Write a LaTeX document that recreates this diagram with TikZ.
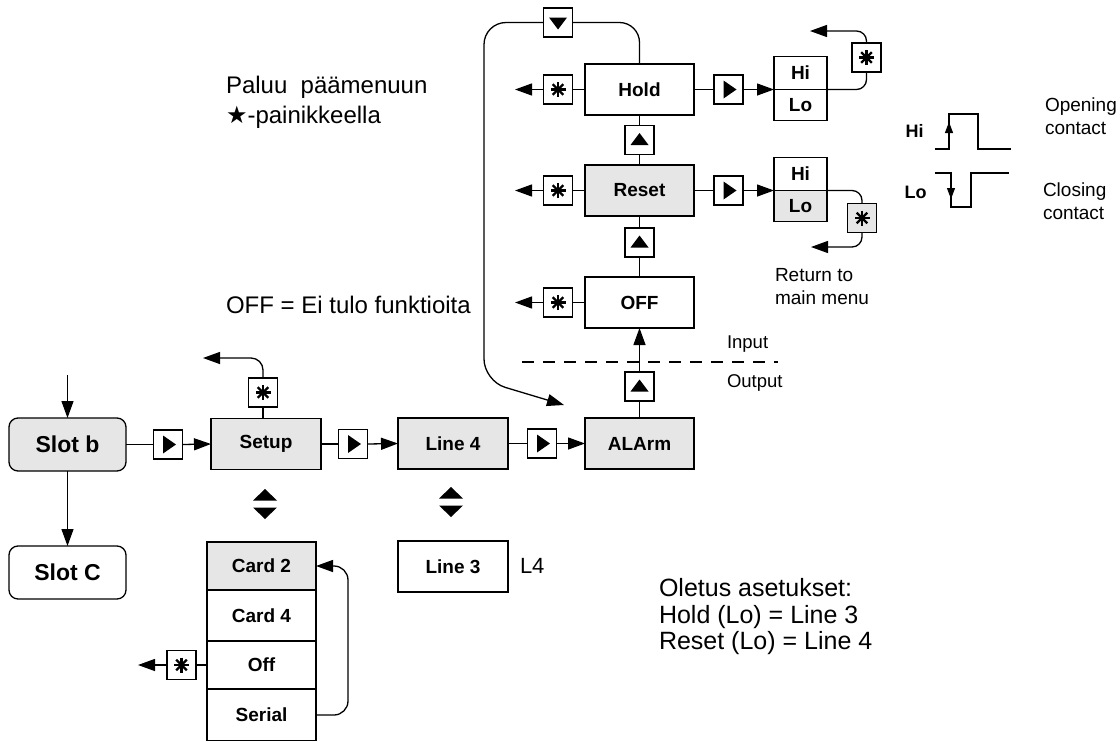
\documentclass[tikz,border=0pt]{standalone}
\usepackage{fontspec}
\setmainfont{Liberation Sans}
\newfontfamily\symfont{DejaVu Sans}
\usetikzlibrary{arrows.meta,calc}
\definecolor{boxgray}{HTML}{E6E6E6}
\begin{document}
\begin{tikzpicture}[x=1pt,y=-1pt,
  every node/.style={inner sep=0pt, outer sep=0pt},
  conn/.style={line width=1.3pt, draw=black},
  arr/.style={conn, -{Triangle[length=17pt,width=12pt]}},
  smallarr/.style={line width=1.2pt, -{Triangle[length=11pt,width=8pt]}},
  box/.style={draw, line width=1.3pt, minimum width=109pt, minimum height=51pt,
    font=\fontsize{19}{22}\selectfont\bfseries},
  gbox/.style={box, fill=boxgray},
  slot/.style={box, rounded corners=9pt, minimum width=117pt, minimum height=53pt,
    font=\fontsize{23}{26}\selectfont\bfseries},
  hilo/.style={draw, line width=1.3pt, minimum width=53pt,
    font=\fontsize{19}{22}\selectfont\bfseries},
  btn/.style={draw, fill=white, line width=1.3pt, minimum width=29pt, minimum height=29pt},
  btnright/.style={btn, path picture={\fill[black] ([shift={(-5pt,9pt)}]path picture bounding box.center)
     -- ([shift={(-5pt,-9pt)}]path picture bounding box.center)
     -- ([shift={(8pt,0pt)}]path picture bounding box.center) -- cycle;}},
  btnup/.style={btn, path picture={\fill[black] ([shift={(-9pt,-5pt)}]path picture bounding box.center)
     -- ([shift={(9pt,-5pt)}]path picture bounding box.center)
     -- ([shift={(0pt,7pt)}]path picture bounding box.center) -- cycle;}},
  btndown/.style={btn, path picture={\fill[black] ([shift={(-9pt,5pt)}]path picture bounding box.center)
     -- ([shift={(9pt,5pt)}]path picture bounding box.center)
     -- ([shift={(0pt,-7pt)}]path picture bounding box.center) -- cycle;}},
  btnstar/.style={btn, path picture={\foreach \a in {0,45,90,135}{\draw[black, line width=2.2pt]
     ([shift={(\a:7.5pt)}]path picture bounding box.center) --
     ([shift={(\a+180:7.5pt)}]path picture bounding box.center);}}},
  updown/.style={minimum width=24pt, minimum height=30pt, path picture={
     \fill[black] ([shift={(-12pt,3.5pt)}]path picture bounding box.center)
       -- ([shift={(12pt,3.5pt)}]path picture bounding box.center)
       -- ([shift={(0pt,15pt)}]path picture bounding box.center) -- cycle;
     \fill[black] ([shift={(-12pt,-3.5pt)}]path picture bounding box.center)
       -- ([shift={(12pt,-3.5pt)}]path picture bounding box.center)
       -- ([shift={(0pt,-15pt)}]path picture bounding box.center) -- cycle;}},
  txt/.style={font=\fontsize{24}{30}\selectfont, align=left, anchor=west},
  small/.style={font=\fontsize{19}{23}\selectfont, align=left, anchor=west},
]
\useasboundingbox (0,0) rectangle (1120,742);
\fill[white] (0,0) rectangle (1120,742);
\clip (0,0) rectangle (1120,740.4);

% ---- main row
\node[slot, fill=boxgray] (slotb) at (67.5,444.5) {Slot b};
\node[slot] (slotc) at (67.5,572.5) {Slot C};
\coordinate (slotin) at (67.5,375);
\node[btnright] (b1) at (168,444.5) {};
\node[gbox, minimum width=110pt] (setup) at (266,444) {Setup};
\node[btnright] (b2) at (353,444) {};
\node[gbox, minimum width=110pt] (line4) at (453,443.5) {Line 4};
\node[btnright] (b3) at (542,443.5) {};
\node[gbox] (alarm) at (639.5,443.5) {ALArm};

\draw[arr] (slotin) -- (slotb.north);
\draw[arr] (slotb.south) -- (slotc.north);
\draw[conn] (slotb.east) -- (b1.west);
\draw[arr] (b1.east) -- (setup.west);
\draw[conn] (setup.east) -- (b2.west);
\draw[arr] (b2.east) -- (line4.west);
\draw[conn] (line4.east) -- (b3.west);
\draw[arr] (b3.east) -- (alarm.west);

% ---- setup star
\node[btnstar] (sS) at (263,392.5) {};
\coordinate (retS) at (203,358);
\draw[conn] (sS.south) -- (sS.south |- setup.north);
\draw[arr, rounded corners=12pt] (sS.north) |- (retS);

% ---- up/down markers
\node[updown] (ud1) at (265,504) {};
\node[updown] (ud2) at (451,502) {};

% ---- card stack
\node[gbox, minimum height=48pt] (card2) at (261.5,566) {Card 2};
\node[box, minimum height=51pt] (card4) at (261.5,615.5) {Card 4};
\node[box, minimum height=48pt] (coff) at (261.5,665) {Off};
\node[box, minimum height=52pt] (serial) at (261.5,715) {Serial};
\node[btnstar] (sC) at (181.5,665) {};
\coordinate (retC) at (138,665);
\draw[conn] (coff.west) -- (sC.east);
\draw[arr] (sC.west) -- (retC);
\draw[arr, rounded corners=14pt] (serial.east) -- ++(32,0) |- (card2.east);

% ---- line 3
\node[box, minimum width=110pt] (line3) at (453,566.5) {Line 3};
\node[font=\fontsize{22}{26}\selectfont, anchor=west] (l4) at (520,566) {L4};

% ---- alarm column
\node[btnup] (bU1) at (639.5,386.5) {};
\node[box] (off) at (639.5,302.5) {OFF};
\node[btnup] (bU2) at (639.5,242.5) {};
\node[gbox] (reset) at (639.5,190.5) {Reset};
\node[btnup] (bU3) at (639.5,140) {};
\node[box] (hold) at (639.5,89.5) {Hold};
\node[btndown] (bD) at (558,22.5) {};

\draw[conn] (alarm.north) -- (bU1.south);
\draw[arr] (bU1.north) -- (off.south);
\draw[conn] (off.north) -- (bU2.south);
\draw[conn] (bU2.north) -- (reset.south);
\draw[conn] (reset.north) -- (bU3.south);
\draw[conn] (bU3.north) -- (hold.south);

% loop over the top
\coordinate (loopend) at (564,405);
\draw[conn, rounded corners=20pt] (hold.north) |- (bD.east);
\draw[arr, rounded corners=22pt] (bD.west) -| (484,381) -- (loopend);

% dashed input/output border
\coordinate (dashL) at (522,362);
\coordinate (dashR) at (778,362);
\draw[line width=1.2pt, dash pattern=on 12pt off 9pt] (dashL) -- (dashR);
\node[font=\fontsize{18.5}{22}\selectfont, anchor=west] (inp) at (727,344) {Input};
\node[font=\fontsize{18.5}{22}\selectfont, anchor=west] (outp) at (727,383) {Output};

% left star buttons
\node[btnstar] (sHold) at (558,89.5) {};
\node[btnstar] (sReset) at (558,190.5) {};
\node[btnstar] (sOff) at (558,302.5) {};
\coordinate (rH) at (515,89.5);
\coordinate (rR) at (515,190.5);
\coordinate (rO) at (515,302.5);
\draw[conn] (hold.west) -- (sHold.east);
\draw[arr] (sHold.west) -- (rH);
\draw[conn] (reset.west) -- (sReset.east);
\draw[arr] (sReset.west) -- (rR);
\draw[conn] (off.west) -- (sOff.east);
\draw[arr] (sOff.west) -- (rO);

% right side: Hold Hi/Lo
\node[btnright] (bRh) at (728.5,89.5) {};
\node[hilo, minimum height=33pt] (hiH) at (800.5,73) {Hi};
\node[hilo, minimum height=31pt] (loH) at (800.5,105) {Lo};
\node[btnstar] (sHi) at (866.5,57.5) {};
\coordinate (retH) at (810,31);
\draw[conn] (hold.east) -- (bRh.west);
\draw[arr] (bRh.east) -- (hiH.south west);
\draw[conn, rounded corners=10pt] (hiH.south east) -| (sHi.south);
\draw[arr, rounded corners=10pt] (sHi.north) |- (retH);

% right side: Reset Hi/Lo
\node[btnright] (bRr) at (728.5,190.5) {};
\node[hilo, minimum height=33pt] (hiR) at (800.5,174) {Hi};
\node[hilo, minimum height=31pt, fill=boxgray] (loR) at (800.5,206) {Lo};
\node[btnstar, fill=boxgray] (sLo) at (862,218) {};
\coordinate (retR) at (811,247);
\draw[conn] (reset.east) -- (bRr.west);
\draw[arr] (bRr.east) -- (hiR.south west);
\draw[conn, rounded corners=10pt] (hiR.south east) -| (sLo.north);
\draw[arr, rounded corners=10pt] (sLo.south) |- (retR);
\node[small] (retmain) at (775,286.5) {Return to\\main menu};

% contact diagrams
\node[font=\fontsize{18}{22}\selectfont\bfseries] (hiL) at (914.5,131) {Hi};
\node[font=\fontsize{18}{22}\selectfont\bfseries] (loL) at (915.5,192) {Lo};
\draw[line width=1.2pt] (935,149) -- (949,149) -- (949,114) -- (978,114) -- (978,149) -- (1011,149);
\draw[smallarr] (949,141) -- (949,122);
\draw[line width=1.2pt] (935,173) -- (951,173) -- (951,207) -- (971,207) -- (971,173) -- (1009,173);
\draw[smallarr] (951,182) -- (951,199);
\node[small] (opening) at (1045,116.5) {Opening\\contact};
\node[small] (closing) at (1043,201.5) {Closing\\contact};

% texts
\node[txt] (paluu) at (226,102) {Paluu~ päämenuun\\{\symfont ★}-painikkeella};
\node[txt] (offtxt) at (226,305) {OFF = Ei tulo funktioita};
\node[font=\fontsize{25}{26.5}\selectfont, align=left, anchor=west] (oletus) at (659,617)
  {Oletus asetukset:\\Hold (Lo) = Line 3\\Reset (Lo) = Line 4};
\end{tikzpicture}
\end{document}
